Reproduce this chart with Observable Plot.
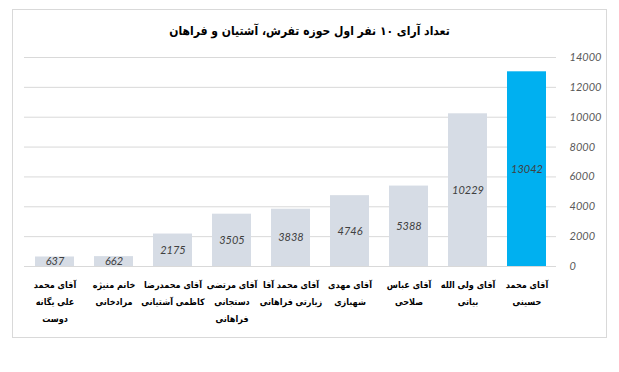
<!DOCTYPE html>
<html>
<head>
<meta charset="utf-8">
<script src="https://cdn.jsdelivr.net/npm/d3@7"></script>
<script src="https://cdn.jsdelivr.net/npm/@observablehq/plot@0.6"></script>
<style>
  html, body { margin: 0; padding: 0; background: #fff; }
  #wrap { position: relative; width: 619px; height: 372px; overflow: hidden; }
  #frame { position: absolute; left: 12px; top: 9px; width: 593px; height: 327px; border: 1px solid #d9d9d9; }
  #title { position: absolute; left: 0; top: 24px; width: 619px; text-align: center; direction: rtl;
           font-family: "DejaVu Sans Condensed", "DejaVu Sans", sans-serif; font-weight: bold; font-size: 12px; color: #000; }
  #chart { position: absolute; left: 0; top: 0; }
</style>
</head>
<body>
<div id="wrap">
  <div id="frame"></div>
  <div id="chart"></div>
  <div id="title">تعداد آرای ۱۰ نفر اول حوزه تفرش، آشتیان و فراهان</div>
</div>
<script>
const candidates = [
  "آقای محمد علی یگانه دوست",
  "خانم منیژه مرادخانی",
  "آقای محمدرضا کاظمی آشتیانی",
  "آقای مرتضی دستجانی فراهانی",
  "آقای محمد آقا زیارتی فراهانی",
  "آقای مهدی شهبازی",
  "آقای عباس صلاحی",
  "آقای ولی الله بیاتی",
  "آقای محمد حسینی"
];
const votes = [637, 662, 2175, 3505, 3838, 4746, 5388, 10229, 13042];
const tickLabels = [
  "آقای محمد\nعلی یگانه\nدوست",
  "خانم منیژه\nمرادخانی",
  "آقای محمدرضا\nکاظمی آشتیانی",
  "آقای مرتضی\nدستجانی\nفراهانی",
  "آقای محمد آقا\nزیارتی فراهانی",
  "آقای مهدی\nشهبازی",
  "آقای عباس\nصلاحی",
  "آقای ولی الله\nبیاتی",
  "آقای محمد\nحسینی"
];
const yTicks = [0, 2000, 4000, 6000, 8000, 10000, 12000, 14000];

const data = candidates.map((name, i) => ({name, votes: votes[i], label: tickLabels[i]}));
const maxVotes = d3.max(votes);

const chart = Plot.plot({
  width: 619,
  height: 372,
  marginTop: 57,
  marginBottom: 106,
  marginLeft: 24,
  marginRight: 63,
  style: {background: "transparent", overflow: "visible"},
  x: {domain: candidates, paddingInner: 0.34, paddingOuter: 0.17, axis: null},
  y: {domain: [0, 14000], axis: null},
  marks: [
    Plot.gridY(yTicks, {stroke: "#d9d9d9", strokeOpacity: 1, strokeWidth: 1}),
    Plot.barY(data, {x: "name", y: "votes", fill: d => d.votes === maxVotes ? "#00b0f0" : "#d6dce5"}),
    Plot.text(data, {x: "name", y: d => d.votes / 2, text: d => String(d.votes),
      fontFamily: "Lato, sans-serif", fontStyle: "italic", fontSize: 11, fill: "#404040"}),
    Plot.axisY(yTicks, {anchor: "right", tickSize: 0, tickPadding: 13, tickFormat: d => String(d),
      fontFamily: "Lato, sans-serif", fontStyle: "italic", fontSize: 11, fill: "#595959", label: null}),
    Plot.text(data, {x: "name", text: "label", frameAnchor: "bottom", lineAnchor: "top", dy: 10,
      lineHeight: 1.85, fontFamily: "DejaVu Sans Condensed, DejaVu Sans, sans-serif", fontWeight: "bold", fontSize: 9, fill: "#000"})
  ]
});
document.getElementById("chart").appendChild(chart);
</script>
</body>
</html>
